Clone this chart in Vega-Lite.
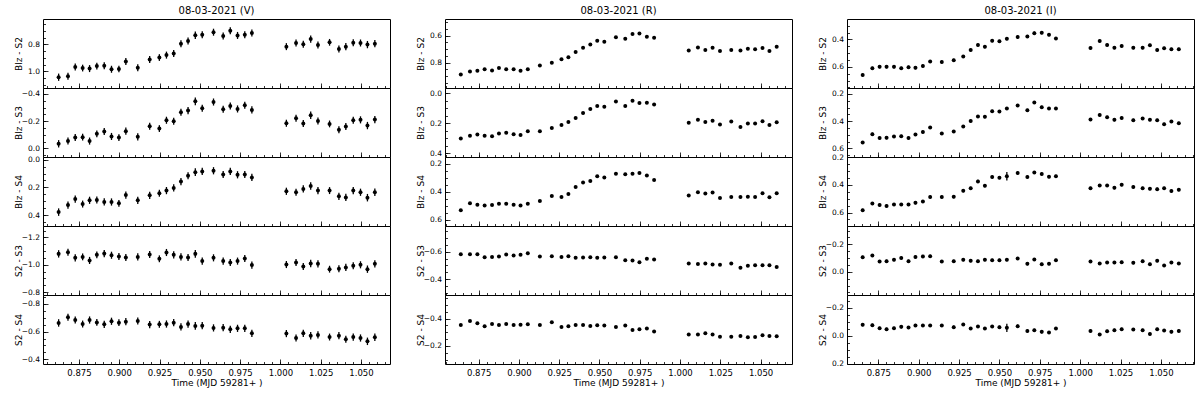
{
"$schema": "https://vega.github.io/schema/vega-lite/v6.json",
"padding": {"left": 13, "top": 5, "right": 2, "bottom": 2},
"background": "white",
"config": {
  "font": "DejaVu Sans",
  "view": {"stroke": "black", "strokeWidth": 1},
  "axis": {"domain": false, "grid": false, "tickColor": "black", "tickWidth": 0.8, "labelColor": "black", "titleColor": "black", "labelFont": "DejaVu Sans", "titleFont": "DejaVu Sans", "titleFontSize": 9, "titleFontWeight": "normal", "labelOverlap": false},
  "axisX": {"labelPadding": 9, "titlePadding": 2, "labelFontSize": 8.5},
  "axisY": {"labelPadding": 8.5, "titleBaseline": "middle", "labelFontSize": 7.5},
  "title": {"font": "DejaVu Sans", "fontSize": 10, "fontWeight": "normal", "color": "black", "offset": 3}
},
"datasets": {
"V": [
{"t":0.8624,"y1":1.044,"y2":-0.034,"y3":0.378,"y4":-1.080,"y5":-0.663,"e":0.027},
{"t":0.8682,"y1":1.037,"y2":-0.054,"y3":0.327,"y4":-1.092,"y5":-0.704,"e":0.026},
{"t":0.8727,"y1":0.968,"y2":-0.080,"y3":0.284,"y4":-1.051,"y5":-0.684,"e":0.026},
{"t":0.8773,"y1":0.976,"y2":-0.083,"y3":0.320,"y4":-1.058,"y5":-0.655,"e":0.025},
{"t":0.8816,"y1":0.980,"y2":-0.054,"y3":0.293,"y4":-1.032,"y5":-0.684,"e":0.026},
{"t":0.8861,"y1":0.961,"y2":-0.107,"y3":0.291,"y4":-1.073,"y5":-0.667,"e":0.025},
{"t":0.8907,"y1":0.959,"y2":-0.124,"y3":0.305,"y4":-1.082,"y5":-0.653,"e":0.026},
{"t":0.8952,"y1":0.985,"y2":-0.088,"y3":0.305,"y4":-1.070,"y5":-0.675,"e":0.026},
{"t":0.8998,"y1":0.983,"y2":-0.080,"y3":0.315,"y4":-1.061,"y5":-0.665,"e":0.025},
{"t":0.9041,"y1":0.927,"y2":-0.127,"y3":0.255,"y4":-1.053,"y5":-0.672,"e":0.026},
{"t":0.9115,"y1":0.973,"y2":-0.085,"y3":0.293,"y4":-1.058,"y5":-0.677,"e":0.026},
{"t":0.9189,"y1":0.912,"y2":-0.163,"y3":0.257,"y4":-1.075,"y5":-0.651,"e":0.026},
{"t":0.9249,"y1":0.898,"y2":-0.146,"y3":0.242,"y4":-1.044,"y5":-0.653,"e":0.025},
{"t":0.9293,"y1":0.880,"y2":-0.207,"y3":0.223,"y4":-1.090,"y5":-0.655,"e":0.026},
{"t":0.9338,"y1":0.868,"y2":-0.200,"y3":0.204,"y4":-1.073,"y5":-0.665,"e":0.026},
{"t":0.9383,"y1":0.795,"y2":-0.266,"y3":0.158,"y4":-1.058,"y5":-0.634,"e":0.026},
{"t":0.9427,"y1":0.776,"y2":-0.278,"y3":0.116,"y4":-1.053,"y5":-0.655,"e":0.026},
{"t":0.9472,"y1":0.732,"y2":-0.346,"y3":0.090,"y4":-1.080,"y5":-0.641,"e":0.028},
{"t":0.9515,"y1":0.729,"y2":-0.295,"y3":0.085,"y4":-1.027,"y5":-0.643,"e":0.026},
{"t":0.9585,"y1":0.710,"y2":-0.341,"y3":0.080,"y4":-1.051,"y5":-0.627,"e":0.026},
{"t":0.9645,"y1":0.739,"y2":-0.288,"y3":0.107,"y4":-1.027,"y5":-0.629,"e":0.026},
{"t":0.9689,"y1":0.700,"y2":-0.312,"y3":0.085,"y4":-1.017,"y5":-0.617,"e":0.026},
{"t":0.9734,"y1":0.734,"y2":-0.290,"y3":0.109,"y4":-1.027,"y5":-0.624,"e":0.026},
{"t":0.9779,"y1":0.729,"y2":-0.317,"y3":0.107,"y4":-1.046,"y5":-0.624,"e":0.026},
{"t":0.9823,"y1":0.715,"y2":-0.283,"y3":0.128,"y4":-0.998,"y5":-0.588,"e":0.026},
{"t":1.0037,"y1":0.817,"y2":-0.185,"y3":0.228,"y4":-1.002,"y5":-0.586,"e":0.026},
{"t":1.0097,"y1":0.790,"y2":-0.222,"y3":0.235,"y4":-1.017,"y5":-0.554,"e":0.026},
{"t":1.0142,"y1":0.800,"y2":-0.183,"y3":0.211,"y4":-0.988,"y5":-0.588,"e":0.026},
{"t":1.0188,"y1":0.761,"y2":-0.244,"y3":0.189,"y4":-1.010,"y5":-0.571,"e":0.027},
{"t":1.0233,"y1":0.805,"y2":-0.202,"y3":0.223,"y4":-1.007,"y5":-0.576,"e":0.026},
{"t":1.0305,"y1":0.785,"y2":-0.180,"y3":0.223,"y4":-0.968,"y5":-0.561,"e":0.025},
{"t":1.0363,"y1":0.834,"y2":-0.137,"y3":0.264,"y4":-0.971,"y5":-0.571,"e":0.026},
{"t":1.0406,"y1":0.817,"y2":-0.161,"y3":0.272,"y4":-0.981,"y5":-0.545,"e":0.026},
{"t":1.0452,"y1":0.788,"y2":-0.207,"y3":0.223,"y4":-0.993,"y5":-0.561,"e":0.026},
{"t":1.0497,"y1":0.790,"y2":-0.210,"y3":0.235,"y4":-1.000,"y5":-0.554,"e":0.026},
{"t":1.0540,"y1":0.802,"y2":-0.168,"y3":0.274,"y4":-0.968,"y5":-0.530,"e":0.027},
{"t":1.0586,"y1":0.795,"y2":-0.212,"y3":0.235,"y4":-1.007,"y5":-0.559,"e":0.027}
],
"R": [
{"t":0.8639,"y1":0.888,"y2":0.302,"y3":0.533,"y4":-0.583,"y5":-0.354,"e":0.007},
{"t":0.8696,"y1":0.866,"y2":0.283,"y3":0.484,"y4":-0.583,"y5":-0.383,"e":0.007},
{"t":0.8742,"y1":0.861,"y2":0.275,"y3":0.494,"y4":-0.583,"y5":-0.366,"e":0.007},
{"t":0.8787,"y1":0.849,"y2":0.283,"y3":0.499,"y4":-0.561,"y5":-0.344,"e":0.007},
{"t":0.8833,"y1":0.859,"y2":0.287,"y3":0.496,"y4":-0.563,"y5":-0.361,"e":0.007},
{"t":0.8876,"y1":0.841,"y2":0.268,"y3":0.487,"y4":-0.566,"y5":-0.354,"e":0.007},
{"t":0.8921,"y1":0.849,"y2":0.264,"y3":0.487,"y4":-0.580,"y5":-0.361,"e":0.007},
{"t":0.8967,"y1":0.849,"y2":0.273,"y3":0.494,"y4":-0.573,"y5":-0.354,"e":0.007},
{"t":0.9010,"y1":0.861,"y2":0.278,"y3":0.499,"y4":-0.578,"y5":-0.356,"e":0.007},
{"t":0.9055,"y1":0.849,"y2":0.254,"y3":0.487,"y4":-0.590,"y5":-0.359,"e":0.007},
{"t":0.9130,"y1":0.822,"y2":0.254,"y3":0.467,"y4":-0.566,"y5":-0.354,"e":0.007},
{"t":0.9204,"y1":0.802,"y2":0.232,"y3":0.431,"y4":-0.568,"y5":-0.373,"e":0.007},
{"t":0.9264,"y1":0.776,"y2":0.211,"y3":0.439,"y4":-0.563,"y5":-0.339,"e":0.007},
{"t":0.9307,"y1":0.761,"y2":0.192,"y3":0.417,"y4":-0.568,"y5":-0.344,"e":0.007},
{"t":0.9352,"y1":0.722,"y2":0.165,"y3":0.366,"y4":-0.556,"y5":-0.354,"e":0.007},
{"t":0.9398,"y1":0.690,"y2":0.132,"y3":0.335,"y4":-0.559,"y5":-0.354,"e":0.007},
{"t":0.9443,"y1":0.666,"y2":0.105,"y3":0.323,"y4":-0.561,"y5":-0.346,"e":0.007},
{"t":0.9486,"y1":0.639,"y2":0.084,"y3":0.289,"y4":-0.556,"y5":-0.351,"e":0.007},
{"t":0.9530,"y1":0.646,"y2":0.089,"y3":0.299,"y4":-0.559,"y5":-0.349,"e":0.007},
{"t":0.9602,"y1":0.612,"y2":0.055,"y3":0.272,"y4":-0.561,"y5":-0.339,"e":0.007},
{"t":0.9660,"y1":0.624,"y2":0.084,"y3":0.275,"y4":-0.539,"y5":-0.349,"e":0.007},
{"t":0.9705,"y1":0.588,"y2":0.050,"y3":0.272,"y4":-0.537,"y5":-0.317,"e":0.007},
{"t":0.9748,"y1":0.585,"y2":0.065,"y3":0.267,"y4":-0.524,"y5":-0.322,"e":0.007},
{"t":0.9794,"y1":0.610,"y2":0.062,"y3":0.284,"y4":-0.549,"y5":-0.327,"e":0.007},
{"t":0.9839,"y1":0.617,"y2":0.074,"y3":0.316,"y4":-0.544,"y5":-0.305,"e":0.007},
{"t":1.0054,"y1":0.710,"y2":0.196,"y3":0.427,"y4":-0.515,"y5":-0.283,"e":0.007},
{"t":1.0111,"y1":0.688,"y2":0.177,"y3":0.405,"y4":-0.510,"y5":-0.283,"e":0.007},
{"t":1.0157,"y1":0.707,"y2":0.192,"y3":0.414,"y4":-0.515,"y5":-0.293,"e":0.007},
{"t":1.0202,"y1":0.690,"y2":0.184,"y3":0.407,"y4":-0.507,"y5":-0.283,"e":0.007},
{"t":1.0248,"y1":0.715,"y2":0.208,"y3":0.446,"y4":-0.505,"y5":-0.268,"e":0.007},
{"t":1.0318,"y1":0.707,"y2":0.189,"y3":0.439,"y4":-0.515,"y5":-0.268,"e":0.007},
{"t":1.0375,"y1":0.710,"y2":0.225,"y3":0.439,"y4":-0.483,"y5":-0.273,"e":0.007},
{"t":1.0421,"y1":0.698,"y2":0.201,"y3":0.436,"y4":-0.498,"y5":-0.263,"e":0.007},
{"t":1.0466,"y1":0.702,"y2":0.201,"y3":0.439,"y4":-0.502,"y5":-0.266,"e":0.007},
{"t":1.0512,"y1":0.693,"y2":0.187,"y3":0.412,"y4":-0.502,"y5":-0.278,"e":0.007},
{"t":1.0555,"y1":0.715,"y2":0.211,"y3":0.441,"y4":-0.502,"y5":-0.273,"e":0.007},
{"t":1.0600,"y1":0.683,"y2":0.194,"y3":0.412,"y4":-0.488,"y5":-0.271,"e":0.007}
],
"I": [
{"t":0.8653,"y1":0.660,"y2":0.556,"y3":0.583,"y4":-0.106,"y5":-0.080,"e":0.011,"f":0.011},
{"t":0.8713,"y1":0.610,"y2":0.495,"y3":0.535,"y4":-0.118,"y5":-0.077,"e":0.011,"f":0.011},
{"t":0.8758,"y1":0.600,"y2":0.524,"y3":0.545,"y4":-0.075,"y5":-0.055,"e":0.011,"f":0.011},
{"t":0.8801,"y1":0.600,"y2":0.522,"y3":0.552,"y4":-0.077,"y5":-0.048,"e":0.011,"f":0.011},
{"t":0.8847,"y1":0.600,"y2":0.512,"y3":0.542,"y4":-0.087,"y5":-0.055,"e":0.011,"f":0.011},
{"t":0.8892,"y1":0.610,"y2":0.510,"y3":0.542,"y4":-0.101,"y5":-0.065,"e":0.011,"f":0.011},
{"t":0.8937,"y1":0.602,"y2":0.524,"y3":0.542,"y4":-0.077,"y5":-0.060,"e":0.011,"f":0.011},
{"t":0.8980,"y1":0.607,"y2":0.498,"y3":0.530,"y4":-0.108,"y5":-0.075,"e":0.011,"f":0.011},
{"t":0.9026,"y1":0.593,"y2":0.480,"y3":0.520,"y4":-0.111,"y5":-0.075,"e":0.011,"f":0.011},
{"t":0.9071,"y1":0.561,"y2":0.446,"y3":0.488,"y4":-0.113,"y5":-0.075,"e":0.011,"f":0.011},
{"t":0.9143,"y1":0.564,"y2":0.490,"y3":0.488,"y4":-0.075,"y5":-0.075,"e":0.011,"f":0.011},
{"t":0.9217,"y1":0.552,"y2":0.476,"y3":0.486,"y4":-0.077,"y5":-0.063,"e":0.011,"f":0.011},
{"t":0.9276,"y1":0.525,"y2":0.439,"y3":0.442,"y4":-0.087,"y5":-0.082,"e":0.011,"f":0.011},
{"t":0.9322,"y1":0.477,"y2":0.398,"y3":0.425,"y4":-0.080,"y5":-0.053,"e":0.011,"f":0.011},
{"t":0.9367,"y1":0.441,"y2":0.366,"y3":0.375,"y4":-0.077,"y5":-0.067,"e":0.011,"f":0.011},
{"t":0.9410,"y1":0.453,"y2":0.368,"y3":0.406,"y4":-0.087,"y5":-0.053,"e":0.011,"f":0.011},
{"t":0.9455,"y1":0.410,"y2":0.327,"y3":0.343,"y4":-0.084,"y5":-0.067,"e":0.011,"f":0.011},
{"t":0.9500,"y1":0.414,"y2":0.329,"y3":0.348,"y4":-0.084,"y5":-0.063,"e":0.011,"f":0.011},
{"t":0.9546,"y1":0.395,"y2":0.307,"y3":0.338,"y4":-0.087,"y5":-0.058,"e":0.011,"f":0.030},
{"t":0.9613,"y1":0.383,"y2":0.285,"y3":0.314,"y4":-0.096,"y5":-0.070,"e":0.011,"f":0.011},
{"t":0.9673,"y1":0.378,"y2":0.320,"y3":0.343,"y4":-0.058,"y5":-0.036,"e":0.011,"f":0.011},
{"t":0.9716,"y1":0.354,"y2":0.263,"y3":0.311,"y4":-0.089,"y5":-0.041,"e":0.011,"f":0.011},
{"t":0.9762,"y1":0.352,"y2":0.298,"y3":0.321,"y4":-0.055,"y5":-0.029,"e":0.011,"f":0.011},
{"t":0.9807,"y1":0.366,"y2":0.307,"y3":0.341,"y4":-0.058,"y5":-0.024,"e":0.011,"f":0.011},
{"t":0.9850,"y1":0.393,"y2":0.307,"y3":0.338,"y4":-0.084,"y5":-0.053,"e":0.011,"f":0.011},
{"t":1.0064,"y1":0.463,"y2":0.388,"y3":0.425,"y4":-0.075,"y5":-0.036,"e":0.011,"f":0.011},
{"t":1.0121,"y1":0.412,"y2":0.354,"y3":0.404,"y4":-0.060,"y5":-0.010,"e":0.011,"f":0.011},
{"t":1.0167,"y1":0.441,"y2":0.371,"y3":0.404,"y4":-0.067,"y5":-0.034,"e":0.011,"f":0.011},
{"t":1.0212,"y1":0.460,"y2":0.390,"y3":0.421,"y4":-0.067,"y5":-0.041,"e":0.011,"f":0.011},
{"t":1.0257,"y1":0.448,"y2":0.376,"y3":0.399,"y4":-0.070,"y5":-0.048,"e":0.011,"f":0.011},
{"t":1.0329,"y1":0.460,"y2":0.393,"y3":0.416,"y4":-0.065,"y5":-0.046,"e":0.011,"f":0.011},
{"t":1.0387,"y1":0.460,"y2":0.380,"y3":0.424,"y4":-0.077,"y5":-0.041,"e":0.011,"f":0.011},
{"t":1.0432,"y1":0.443,"y2":0.390,"y3":0.428,"y4":-0.055,"y5":-0.014,"e":0.011,"f":0.011},
{"t":1.0477,"y1":0.477,"y2":0.393,"y3":0.431,"y4":-0.080,"y5":-0.048,"e":0.011,"f":0.011},
{"t":1.0520,"y1":0.465,"y2":0.422,"y3":0.425,"y4":-0.046,"y5":-0.039,"e":0.011,"f":0.011},
{"t":1.0565,"y1":0.472,"y2":0.402,"y3":0.445,"y4":-0.067,"y5":-0.029,"e":0.011,"f":0.011},
{"t":1.0611,"y1":0.472,"y2":0.415,"y3":0.435,"y4":-0.060,"y5":-0.036,"e":0.011,"f":0.011}
]
},
"hconcat": [
{"vconcat": [
 {"title": "08-03-2021  (V)", "width": 347, "height": 69, "data": {"name": "V"}, "resolve": {"axis": {"x": "independent", "y": "independent"}},
  "layer": [
   {"mark": {"type": "errorbar", "ticks": false, "color": "black", "thickness": 1.3},
    "encoding": {"x": {"field": "t", "type": "quantitative", "scale": {"domain": [0.8527, 1.068], "nice": false, "zero": false}, "axis": {"orient": "bottom", "tickCount": 40, "tickSize": -2.5, "labels": false, "title": null}},
     "y": {"field": "y1", "type": "quantitative", "scale": {"domain": [0.612, 1.124], "reverse": true, "nice": false, "zero": false}, "axis": {"orient": "left", "tickCount": 9, "tickSize": -2.5, "labels": false, "title": null}},
     "yError": {"field": "e"}}},
   {"mark": {"type": "circle", "color": "black", "size": 16, "opacity": 1},
    "encoding": {"x": {"field": "t", "type": "quantitative", "scale": {"domain": [0.8527, 1.068], "nice": false, "zero": false}, "axis": {"orient": "bottom", "values": [0.875, 0.9, 0.925, 0.95, 0.975, 1.0, 1.025, 1.05], "tickSize": -5, "labels": false, "title": null}},
     "y": {"field": "y1", "type": "quantitative", "scale": {"domain": [0.612, 1.124], "reverse": true, "nice": false, "zero": false}, "axis": {"orient": "left", "values": [0.8, 1.0], "format": ".1f", "tickSize": -5, "title": "Blz - S2", "titleX": -24.5, "titleY": 34.5}}}}
  ]},
 {"width": 347, "height": 69, "data": {"name": "V"}, "resolve": {"axis": {"x": "independent", "y": "independent"}},
  "layer": [
   {"mark": {"type": "errorbar", "ticks": false, "color": "black", "thickness": 1.3},
    "encoding": {"x": {"field": "t", "type": "quantitative", "scale": {"domain": [0.8527, 1.068], "nice": false, "zero": false}, "axis": {"orient": "bottom", "tickCount": 40, "tickSize": -2.5, "labels": false, "title": null}},
     "y": {"field": "y2", "type": "quantitative", "scale": {"domain": [-0.444, 0.063], "reverse": true, "nice": false, "zero": false}, "axis": {"orient": "left", "tickCount": 9, "tickSize": -2.5, "labels": false, "title": null}},
     "yError": {"field": "e"}}},
   {"mark": {"type": "circle", "color": "black", "size": 16, "opacity": 1},
    "encoding": {"x": {"field": "t", "type": "quantitative", "scale": {"domain": [0.8527, 1.068], "nice": false, "zero": false}, "axis": {"orient": "bottom", "values": [0.875, 0.9, 0.925, 0.95, 0.975, 1.0, 1.025, 1.05], "tickSize": -5, "labels": false, "title": null}},
     "y": {"field": "y2", "type": "quantitative", "scale": {"domain": [-0.444, 0.063], "reverse": true, "nice": false, "zero": false}, "axis": {"orient": "left", "values": [-0.4, -0.2, 0.0], "format": ".1f", "tickSize": -5, "title": "Blz - S3", "titleX": -24.5, "titleY": 34.5}}}}
  ]},
 {"width": 347, "height": 69, "data": {"name": "V"}, "resolve": {"axis": {"x": "independent", "y": "independent"}},
  "layer": [
   {"mark": {"type": "errorbar", "ticks": false, "color": "black", "thickness": 1.3},
    "encoding": {"x": {"field": "t", "type": "quantitative", "scale": {"domain": [0.8527, 1.068], "nice": false, "zero": false}, "axis": {"orient": "bottom", "tickCount": 40, "tickSize": -2.5, "labels": false, "title": null}},
     "y": {"field": "y3", "type": "quantitative", "scale": {"domain": [-0.019, 0.478], "reverse": true, "nice": false, "zero": false}, "axis": {"orient": "left", "tickCount": 9, "tickSize": -2.5, "labels": false, "title": null}},
     "yError": {"field": "e"}}},
   {"mark": {"type": "circle", "color": "black", "size": 16, "opacity": 1},
    "encoding": {"x": {"field": "t", "type": "quantitative", "scale": {"domain": [0.8527, 1.068], "nice": false, "zero": false}, "axis": {"orient": "bottom", "values": [0.875, 0.9, 0.925, 0.95, 0.975, 1.0, 1.025, 1.05], "tickSize": -5, "labels": false, "title": null}},
     "y": {"field": "y3", "type": "quantitative", "scale": {"domain": [-0.019, 0.478], "reverse": true, "nice": false, "zero": false}, "axis": {"orient": "left", "values": [0.0, 0.2, 0.4], "format": ".1f", "tickSize": -5, "title": "Blz - S4", "titleX": -24.5, "titleY": 34.5}}}}
  ]},
 {"width": 347, "height": 69, "data": {"name": "V"}, "resolve": {"axis": {"x": "independent", "y": "independent"}},
  "layer": [
   {"mark": {"type": "errorbar", "ticks": false, "color": "black", "thickness": 1.3},
    "encoding": {"x": {"field": "t", "type": "quantitative", "scale": {"domain": [0.8527, 1.068], "nice": false, "zero": false}, "axis": {"orient": "bottom", "tickCount": 40, "tickSize": -2.5, "labels": false, "title": null}},
     "y": {"field": "y4", "type": "quantitative", "scale": {"domain": [-1.284, -0.779], "reverse": true, "nice": false, "zero": false}, "axis": {"orient": "left", "tickCount": 9, "tickSize": -2.5, "labels": false, "title": null}},
     "yError": {"field": "e"}}},
   {"mark": {"type": "circle", "color": "black", "size": 16, "opacity": 1},
    "encoding": {"x": {"field": "t", "type": "quantitative", "scale": {"domain": [0.8527, 1.068], "nice": false, "zero": false}, "axis": {"orient": "bottom", "values": [0.875, 0.9, 0.925, 0.95, 0.975, 1.0, 1.025, 1.05], "tickSize": -5, "labels": false, "title": null}},
     "y": {"field": "y4", "type": "quantitative", "scale": {"domain": [-1.284, -0.779], "reverse": true, "nice": false, "zero": false}, "axis": {"orient": "left", "values": [-1.2, -1.0, -0.8], "format": ".1f", "tickSize": -5, "title": "S2 - S3", "titleX": -24.5, "titleY": 34.5}}}}
  ]},
 {"width": 347, "height": 69, "data": {"name": "V"}, "resolve": {"axis": {"x": "independent", "y": "independent"}},
  "layer": [
   {"mark": {"type": "errorbar", "ticks": false, "color": "black", "thickness": 1.3},
    "encoding": {"x": {"field": "t", "type": "quantitative", "scale": {"domain": [0.8527, 1.068], "nice": false, "zero": false}, "axis": {"orient": "bottom", "tickCount": 40, "tickSize": -2.5, "labels": false, "title": null}},
     "y": {"field": "y5", "type": "quantitative", "scale": {"domain": [-0.865, -0.366], "reverse": true, "nice": false, "zero": false}, "axis": {"orient": "left", "tickCount": 9, "tickSize": -2.5, "labels": false, "title": null}},
     "yError": {"field": "e"}}},
   {"mark": {"type": "circle", "color": "black", "size": 16, "opacity": 1},
    "encoding": {"x": {"field": "t", "type": "quantitative", "scale": {"domain": [0.8527, 1.068], "nice": false, "zero": false}, "axis": {"orient": "bottom", "values": [0.875, 0.9, 0.925, 0.95, 0.975, 1.0, 1.025, 1.05], "format": ".3f", "tickSize": -5, "title": "Time (MJD 59281+ )"}},
     "y": {"field": "y5", "type": "quantitative", "scale": {"domain": [-0.865, -0.366], "reverse": true, "nice": false, "zero": false}, "axis": {"orient": "left", "values": [-0.8, -0.6, -0.4], "format": ".1f", "tickSize": -5, "title": "S2 - S4", "titleX": -24.5, "titleY": 34.5}}}}
  ]}
], "spacing": 0, "bounds": "flush"},
{"vconcat": [
 {"title": "08-03-2021  (R)", "width": 347, "height": 69, "data": {"name": "R"}, "resolve": {"axis": {"x": "independent", "y": "independent"}},
  "layer": [
   {"mark": {"type": "errorbar", "ticks": false, "color": "black", "thickness": 1.3},
    "encoding": {"x": {"field": "t", "type": "quantitative", "scale": {"domain": [0.8541, 1.0695], "nice": false, "zero": false}, "axis": {"orient": "bottom", "tickCount": 40, "tickSize": -2.5, "labels": false, "title": null}},
     "y": {"field": "y1", "type": "quantitative", "scale": {"domain": [0.478, 0.988], "reverse": true, "nice": false, "zero": false}, "axis": {"orient": "left", "tickCount": 9, "tickSize": -2.5, "labels": false, "title": null}},
     "yError": {"field": "e"}}},
   {"mark": {"type": "circle", "color": "black", "size": 16, "opacity": 1},
    "encoding": {"x": {"field": "t", "type": "quantitative", "scale": {"domain": [0.8541, 1.0695], "nice": false, "zero": false}, "axis": {"orient": "bottom", "values": [0.875, 0.9, 0.925, 0.95, 0.975, 1.0, 1.025, 1.05], "tickSize": -5, "labels": false, "title": null}},
     "y": {"field": "y1", "type": "quantitative", "scale": {"domain": [0.478, 0.988], "reverse": true, "nice": false, "zero": false}, "axis": {"orient": "left", "values": [0.6, 0.8], "format": ".1f", "tickSize": -5, "title": "Blz - S2", "titleX": -24.5, "titleY": 34.5}}}}
  ]},
 {"width": 347, "height": 69, "data": {"name": "R"}, "resolve": {"axis": {"x": "independent", "y": "independent"}},
  "layer": [
   {"mark": {"type": "errorbar", "ticks": false, "color": "black", "thickness": 1.3},
    "encoding": {"x": {"field": "t", "type": "quantitative", "scale": {"domain": [0.8541, 1.0695], "nice": false, "zero": false}, "axis": {"orient": "bottom", "tickCount": 40, "tickSize": -2.5, "labels": false, "title": null}},
     "y": {"field": "y2", "type": "quantitative", "scale": {"domain": [-0.036, 0.426], "reverse": true, "nice": false, "zero": false}, "axis": {"orient": "left", "tickCount": 9, "tickSize": -2.5, "labels": false, "title": null}},
     "yError": {"field": "e"}}},
   {"mark": {"type": "circle", "color": "black", "size": 16, "opacity": 1},
    "encoding": {"x": {"field": "t", "type": "quantitative", "scale": {"domain": [0.8541, 1.0695], "nice": false, "zero": false}, "axis": {"orient": "bottom", "values": [0.875, 0.9, 0.925, 0.95, 0.975, 1.0, 1.025, 1.05], "tickSize": -5, "labels": false, "title": null}},
     "y": {"field": "y2", "type": "quantitative", "scale": {"domain": [-0.036, 0.426], "reverse": true, "nice": false, "zero": false}, "axis": {"orient": "left", "values": [0.0, 0.2, 0.4], "format": ".1f", "tickSize": -5, "title": "Blz - S3", "titleX": -24.5, "titleY": 34.5}}}}
  ]},
 {"width": 347, "height": 69, "data": {"name": "R"}, "resolve": {"axis": {"x": "independent", "y": "independent"}},
  "layer": [
   {"mark": {"type": "errorbar", "ticks": false, "color": "black", "thickness": 1.3},
    "encoding": {"x": {"field": "t", "type": "quantitative", "scale": {"domain": [0.8541, 1.0695], "nice": false, "zero": false}, "axis": {"orient": "bottom", "tickCount": 40, "tickSize": -2.5, "labels": false, "title": null}},
     "y": {"field": "y3", "type": "quantitative", "scale": {"domain": [0.152, 0.646], "reverse": true, "nice": false, "zero": false}, "axis": {"orient": "left", "tickCount": 9, "tickSize": -2.5, "labels": false, "title": null}},
     "yError": {"field": "e"}}},
   {"mark": {"type": "circle", "color": "black", "size": 16, "opacity": 1},
    "encoding": {"x": {"field": "t", "type": "quantitative", "scale": {"domain": [0.8541, 1.0695], "nice": false, "zero": false}, "axis": {"orient": "bottom", "values": [0.875, 0.9, 0.925, 0.95, 0.975, 1.0, 1.025, 1.05], "tickSize": -5, "labels": false, "title": null}},
     "y": {"field": "y3", "type": "quantitative", "scale": {"domain": [0.152, 0.646], "reverse": true, "nice": false, "zero": false}, "axis": {"orient": "left", "values": [0.2, 0.4, 0.6], "format": ".1f", "tickSize": -5, "title": "Blz - S4", "titleX": -24.5, "titleY": 34.5}}}}
  ]},
 {"width": 347, "height": 69, "data": {"name": "R"}, "resolve": {"axis": {"x": "independent", "y": "independent"}},
  "layer": [
   {"mark": {"type": "errorbar", "ticks": false, "color": "black", "thickness": 1.3},
    "encoding": {"x": {"field": "t", "type": "quantitative", "scale": {"domain": [0.8541, 1.0695], "nice": false, "zero": false}, "axis": {"orient": "bottom", "tickCount": 40, "tickSize": -2.5, "labels": false, "title": null}},
     "y": {"field": "y4", "type": "quantitative", "scale": {"domain": [-0.790, -0.283], "reverse": true, "nice": false, "zero": false}, "axis": {"orient": "left", "tickCount": 9, "tickSize": -2.5, "labels": false, "title": null}},
     "yError": {"field": "e"}}},
   {"mark": {"type": "circle", "color": "black", "size": 16, "opacity": 1},
    "encoding": {"x": {"field": "t", "type": "quantitative", "scale": {"domain": [0.8541, 1.0695], "nice": false, "zero": false}, "axis": {"orient": "bottom", "values": [0.875, 0.9, 0.925, 0.95, 0.975, 1.0, 1.025, 1.05], "tickSize": -5, "labels": false, "title": null}},
     "y": {"field": "y4", "type": "quantitative", "scale": {"domain": [-0.790, -0.283], "reverse": true, "nice": false, "zero": false}, "axis": {"orient": "left", "values": [-0.6, -0.4], "format": ".1f", "tickSize": -5, "title": "S2 - S3", "titleX": -24.5, "titleY": 34.5}}}}
  ]},
 {"width": 347, "height": 69, "data": {"name": "R"}, "resolve": {"axis": {"x": "independent", "y": "independent"}},
  "layer": [
   {"mark": {"type": "errorbar", "ticks": false, "color": "black", "thickness": 1.3},
    "encoding": {"x": {"field": "t", "type": "quantitative", "scale": {"domain": [0.8541, 1.0695], "nice": false, "zero": false}, "axis": {"orient": "bottom", "tickCount": 40, "tickSize": -2.5, "labels": false, "title": null}},
     "y": {"field": "y5", "type": "quantitative", "scale": {"domain": [-0.573, -0.068], "reverse": true, "nice": false, "zero": false}, "axis": {"orient": "left", "tickCount": 9, "tickSize": -2.5, "labels": false, "title": null}},
     "yError": {"field": "e"}}},
   {"mark": {"type": "circle", "color": "black", "size": 16, "opacity": 1},
    "encoding": {"x": {"field": "t", "type": "quantitative", "scale": {"domain": [0.8541, 1.0695], "nice": false, "zero": false}, "axis": {"orient": "bottom", "values": [0.875, 0.9, 0.925, 0.95, 0.975, 1.0, 1.025, 1.05], "format": ".3f", "tickSize": -5, "title": "Time (MJD 59281+ )"}},
     "y": {"field": "y5", "type": "quantitative", "scale": {"domain": [-0.573, -0.068], "reverse": true, "nice": false, "zero": false}, "axis": {"orient": "left", "values": [-0.4, -0.2], "format": ".1f", "tickSize": -5, "title": "S2 - S4", "titleX": -24.5, "titleY": 34.5}}}}
  ]}
], "spacing": 0, "bounds": "flush"},
{"vconcat": [
 {"title": "08-03-2021  (I)", "width": 347, "height": 69, "data": {"name": "I"}, "resolve": {"axis": {"x": "independent", "y": "independent"}},
  "layer": [
   {"mark": {"type": "errorbar", "ticks": false, "color": "black", "thickness": 1.3},
    "encoding": {"x": {"field": "t", "type": "quantitative", "scale": {"domain": [0.8556, 1.0705], "nice": false, "zero": false}, "axis": {"orient": "bottom", "tickCount": 40, "tickSize": -2.5, "labels": false, "title": null}},
     "y": {"field": "y1", "type": "quantitative", "scale": {"domain": [0.251, 0.754], "reverse": true, "nice": false, "zero": false}, "axis": {"orient": "left", "tickCount": 9, "tickSize": -2.5, "labels": false, "title": null}},
     "yError": {"field": "e"}}},
   {"mark": {"type": "circle", "color": "black", "size": 16, "opacity": 1},
    "encoding": {"x": {"field": "t", "type": "quantitative", "scale": {"domain": [0.8556, 1.0705], "nice": false, "zero": false}, "axis": {"orient": "bottom", "values": [0.875, 0.9, 0.925, 0.95, 0.975, 1.0, 1.025, 1.05], "tickSize": -5, "labels": false, "title": null}},
     "y": {"field": "y1", "type": "quantitative", "scale": {"domain": [0.251, 0.754], "reverse": true, "nice": false, "zero": false}, "axis": {"orient": "left", "values": [0.4, 0.6], "format": ".1f", "tickSize": -5, "title": "Blz - S2", "titleX": -24.5, "titleY": 34.5}}}}
  ]},
 {"width": 347, "height": 69, "data": {"name": "I"}, "resolve": {"axis": {"x": "independent", "y": "independent"}},
  "layer": [
   {"mark": {"type": "errorbar", "ticks": false, "color": "black", "thickness": 1.3},
    "encoding": {"x": {"field": "t", "type": "quantitative", "scale": {"domain": [0.8556, 1.0705], "nice": false, "zero": false}, "axis": {"orient": "bottom", "tickCount": 40, "tickSize": -2.5, "labels": false, "title": null}},
     "y": {"field": "y2", "type": "quantitative", "scale": {"domain": [0.156, 0.663], "reverse": true, "nice": false, "zero": false}, "axis": {"orient": "left", "tickCount": 9, "tickSize": -2.5, "labels": false, "title": null}},
     "yError": {"field": "e"}}},
   {"mark": {"type": "circle", "color": "black", "size": 16, "opacity": 1},
    "encoding": {"x": {"field": "t", "type": "quantitative", "scale": {"domain": [0.8556, 1.0705], "nice": false, "zero": false}, "axis": {"orient": "bottom", "values": [0.875, 0.9, 0.925, 0.95, 0.975, 1.0, 1.025, 1.05], "tickSize": -5, "labels": false, "title": null}},
     "y": {"field": "y2", "type": "quantitative", "scale": {"domain": [0.156, 0.663], "reverse": true, "nice": false, "zero": false}, "axis": {"orient": "left", "values": [0.2, 0.4, 0.6], "format": ".1f", "tickSize": -5, "title": "Blz - S3", "titleX": -24.5, "titleY": 34.5}}}}
  ]},
 {"width": 347, "height": 69, "data": {"name": "I"}, "resolve": {"axis": {"x": "independent", "y": "independent"}},
  "layer": [
   {"mark": {"type": "errorbar", "ticks": false, "color": "black", "thickness": 1.3},
    "encoding": {"x": {"field": "t", "type": "quantitative", "scale": {"domain": [0.8556, 1.0705], "nice": false, "zero": false}, "axis": {"orient": "bottom", "tickCount": 40, "tickSize": -2.5, "labels": false, "title": null}},
     "y": {"field": "y3", "type": "quantitative", "scale": {"domain": [0.199, 0.697], "reverse": true, "nice": false, "zero": false}, "axis": {"orient": "left", "tickCount": 9, "tickSize": -2.5, "labels": false, "title": null}},
     "yError": {"field": "f"}}},
   {"mark": {"type": "circle", "color": "black", "size": 16, "opacity": 1},
    "encoding": {"x": {"field": "t", "type": "quantitative", "scale": {"domain": [0.8556, 1.0705], "nice": false, "zero": false}, "axis": {"orient": "bottom", "values": [0.875, 0.9, 0.925, 0.95, 0.975, 1.0, 1.025, 1.05], "tickSize": -5, "labels": false, "title": null}},
     "y": {"field": "y3", "type": "quantitative", "scale": {"domain": [0.199, 0.697], "reverse": true, "nice": false, "zero": false}, "axis": {"orient": "left", "values": [0.2, 0.4, 0.6], "format": ".1f", "tickSize": -5, "title": "Blz - S4", "titleX": -24.5, "titleY": 34.5}}}}
  ]},
 {"width": 347, "height": 69, "data": {"name": "I"}, "resolve": {"axis": {"x": "independent", "y": "independent"}},
  "layer": [
   {"mark": {"type": "errorbar", "ticks": false, "color": "black", "thickness": 1.3},
    "encoding": {"x": {"field": "t", "type": "quantitative", "scale": {"domain": [0.8556, 1.0705], "nice": false, "zero": false}, "axis": {"orient": "bottom", "tickCount": 40, "tickSize": -2.5, "labels": false, "title": null}},
     "y": {"field": "y4", "type": "quantitative", "scale": {"domain": [-0.333, 0.169], "reverse": true, "nice": false, "zero": false}, "axis": {"orient": "left", "tickCount": 9, "tickSize": -2.5, "labels": false, "title": null}},
     "yError": {"field": "e"}}},
   {"mark": {"type": "circle", "color": "black", "size": 16, "opacity": 1},
    "encoding": {"x": {"field": "t", "type": "quantitative", "scale": {"domain": [0.8556, 1.0705], "nice": false, "zero": false}, "axis": {"orient": "bottom", "values": [0.875, 0.9, 0.925, 0.95, 0.975, 1.0, 1.025, 1.05], "tickSize": -5, "labels": false, "title": null}},
     "y": {"field": "y4", "type": "quantitative", "scale": {"domain": [-0.333, 0.169], "reverse": true, "nice": false, "zero": false}, "axis": {"orient": "left", "values": [-0.2, 0.0], "format": ".1f", "tickSize": -5, "title": "S2 - S3", "titleX": -24.5, "titleY": 34.5}}}}
  ]},
 {"width": 347, "height": 69, "data": {"name": "I"}, "resolve": {"axis": {"x": "independent", "y": "independent"}},
  "layer": [
   {"mark": {"type": "errorbar", "ticks": false, "color": "black", "thickness": 1.3},
    "encoding": {"x": {"field": "t", "type": "quantitative", "scale": {"domain": [0.8556, 1.0705], "nice": false, "zero": false}, "axis": {"orient": "bottom", "tickCount": 40, "tickSize": -2.5, "labels": false, "title": null}},
     "y": {"field": "y5", "type": "quantitative", "scale": {"domain": [-0.293, 0.201], "reverse": true, "nice": false, "zero": false}, "axis": {"orient": "left", "tickCount": 9, "tickSize": -2.5, "labels": false, "title": null}},
     "yError": {"field": "f"}}},
   {"mark": {"type": "circle", "color": "black", "size": 16, "opacity": 1},
    "encoding": {"x": {"field": "t", "type": "quantitative", "scale": {"domain": [0.8556, 1.0705], "nice": false, "zero": false}, "axis": {"orient": "bottom", "values": [0.875, 0.9, 0.925, 0.95, 0.975, 1.0, 1.025, 1.05], "format": ".3f", "tickSize": -5, "title": "Time (MJD 59281+ )"}},
     "y": {"field": "y5", "type": "quantitative", "scale": {"domain": [-0.293, 0.201], "reverse": true, "nice": false, "zero": false}, "axis": {"orient": "left", "values": [-0.2, 0.0, 0.2], "format": ".1f", "tickSize": -5, "title": "S2 - S4", "titleX": -24.5, "titleY": 34.5}}}}
  ]}
], "spacing": 0, "bounds": "flush"}
],
"spacing": 24
}
